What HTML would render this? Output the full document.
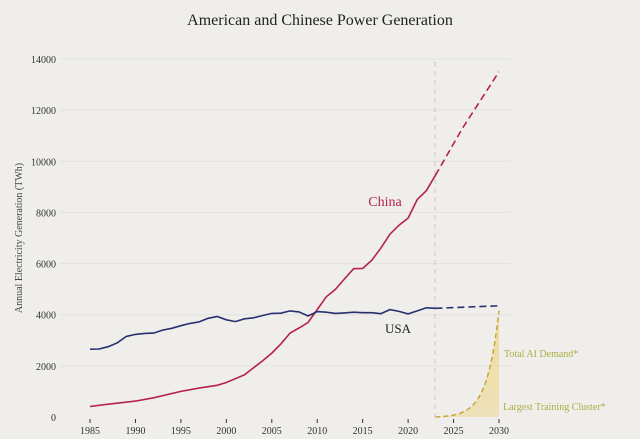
<!DOCTYPE html>
<html><head><meta charset="utf-8"><style>
html,body{margin:0;padding:0;background:#efeeeb;}
svg{display:block;font-family:"Liberation Serif",serif;}
</style></head><body>
<svg id="s" width="640" height="439" viewBox="0 0 640 439">
<defs>
<linearGradient id="g" x1="0" y1="0" x2="0" y2="1">
<stop offset="0" stop-color="#f0d98a"/><stop offset="1" stop-color="#eedfb0"/>
</linearGradient>
</defs>
<rect width="640" height="439" fill="#efeeeb"/>
<text x="320" y="25" text-anchor="middle" font-size="16" fill="#222">American and Chinese Power Generation</text>
<g id="grid" stroke="#e2e1dd" stroke-width="1"></g>
<g id="ylab" font-size="10" fill="#333" text-anchor="end"></g>
<g id="xlab" font-size="10" fill="#333" text-anchor="middle"></g>
<text transform="translate(22,238) rotate(-90)" text-anchor="middle" font-size="10" fill="#444">Annual Electricity Generation (TWh)</text>
<line x1="435" y1="62" x2="435" y2="417" stroke="#c8c8c8" stroke-dasharray="5,4" stroke-width="1"/>
<path id="ai-fill" fill="url(#g)" opacity="0.85"/>
<path id="ai" fill="none" stroke="#c9a540" stroke-width="1.5" stroke-dasharray="5,3"/>
<path id="cn" fill="none" stroke="#b5224a" stroke-width="1.6"/>
<path id="cnd" fill="none" stroke="#b5224a" stroke-width="1.6" stroke-dasharray="7,4"/>
<path id="us" fill="none" stroke="#27306e" stroke-width="1.6"/>
<path id="usd" fill="none" stroke="#27306e" stroke-width="1.6" stroke-dasharray="7,4"/>
<text x="385" y="206" text-anchor="middle" font-size="14" fill="#b5224a">China</text>
<text x="398" y="333" text-anchor="middle" font-size="13" fill="#222">USA</text>
<text x="504" y="357" font-size="10" fill="#aeae45">Total AI Demand*</text>
<text x="503" y="410" font-size="10" fill="#aeae45">Largest Training Cluster*</text>
</svg>
<script>
const X=y=>90+(y-1985)*409/45, Y=v=>417-v*358/14000;
let gr='',yl='';
for(let v=0;v<=14000;v+=2000){ if(v>0) gr+=`<line x1="60" x2="510" y1="${Y(v)}" y2="${Y(v)}"/>`; yl+=`<text x="56" y="${Y(v)+4}">${v}</text>`;}
document.getElementById('grid').innerHTML=gr;document.getElementById('ylab').innerHTML=yl;
let xl='';for(let y=1985;y<=2030;y+=5){xl+=`<line x1="${X(y)}" x2="${X(y)}" y1="419" y2="423" stroke="#333"/><text x="${X(y)}" y="434">${y}</text>`;}
document.getElementById('xlab').innerHTML=xl;
const p=a=>a.map((d,i)=>(i?'L':'M')+X(d[0]).toFixed(1)+','+Y(d[1]).toFixed(1)).join('');
const cn=[[1985,410],[1987,500],[1990,620],[1992,750],[1995,1000],[1997,1130],[1999,1240],[2000,1350],[2002,1650],[2004,2200],[2005,2500],[2006,2860],[2007,3280],[2008,3480],[2009,3700],[2010,4200],[2011,4700],[2012,4990],[2013,5400],[2014,5800],[2015,5810],[2016,6130],[2017,6600],[2018,7150],[2019,7500],[2020,7780],[2021,8500],[2022,8850],[2023,9450]];
const us=[[1985,2650],[1986,2660],[1987,2750],[1988,2900],[1989,3150],[1990,3230],[1991,3270],[1992,3280],[1993,3400],[1994,3470],[1995,3570],[1996,3660],[1997,3720],[1998,3860],[1999,3930],[2000,3800],[2001,3730],[2002,3840],[2003,3880],[2004,3970],[2005,4050],[2006,4060],[2007,4150],[2008,4110],[2009,3950],[2010,4120],[2011,4100],[2012,4050],[2013,4070],[2014,4100],[2015,4080],[2016,4080],[2017,4040],[2018,4200],[2019,4130],[2020,4030],[2021,4150],[2022,4270],[2023,4250]];
document.getElementById('cn').setAttribute('d',p(cn));
document.getElementById('cnd').setAttribute('d',p([[2023,9450],[2026,11300],[2030,13500]]));
document.getElementById('us').setAttribute('d',p(us));
document.getElementById('usd').setAttribute('d',p([[2023,4250],[2030,4350]]));
let ai=[];for(let t=2023;t<=2030.001;t+=0.25){ai.push([t,4150*(Math.exp((t-2023)*0.75)-1)/(Math.exp(7*0.75)-1)]);}
const ad=p(ai);document.getElementById('ai').setAttribute('d',ad);
document.getElementById('ai-fill').setAttribute('d',ad+`L${X(2030)},${Y(0)}L${X(2023)},${Y(0)}Z`);
</script>
</body></html>
